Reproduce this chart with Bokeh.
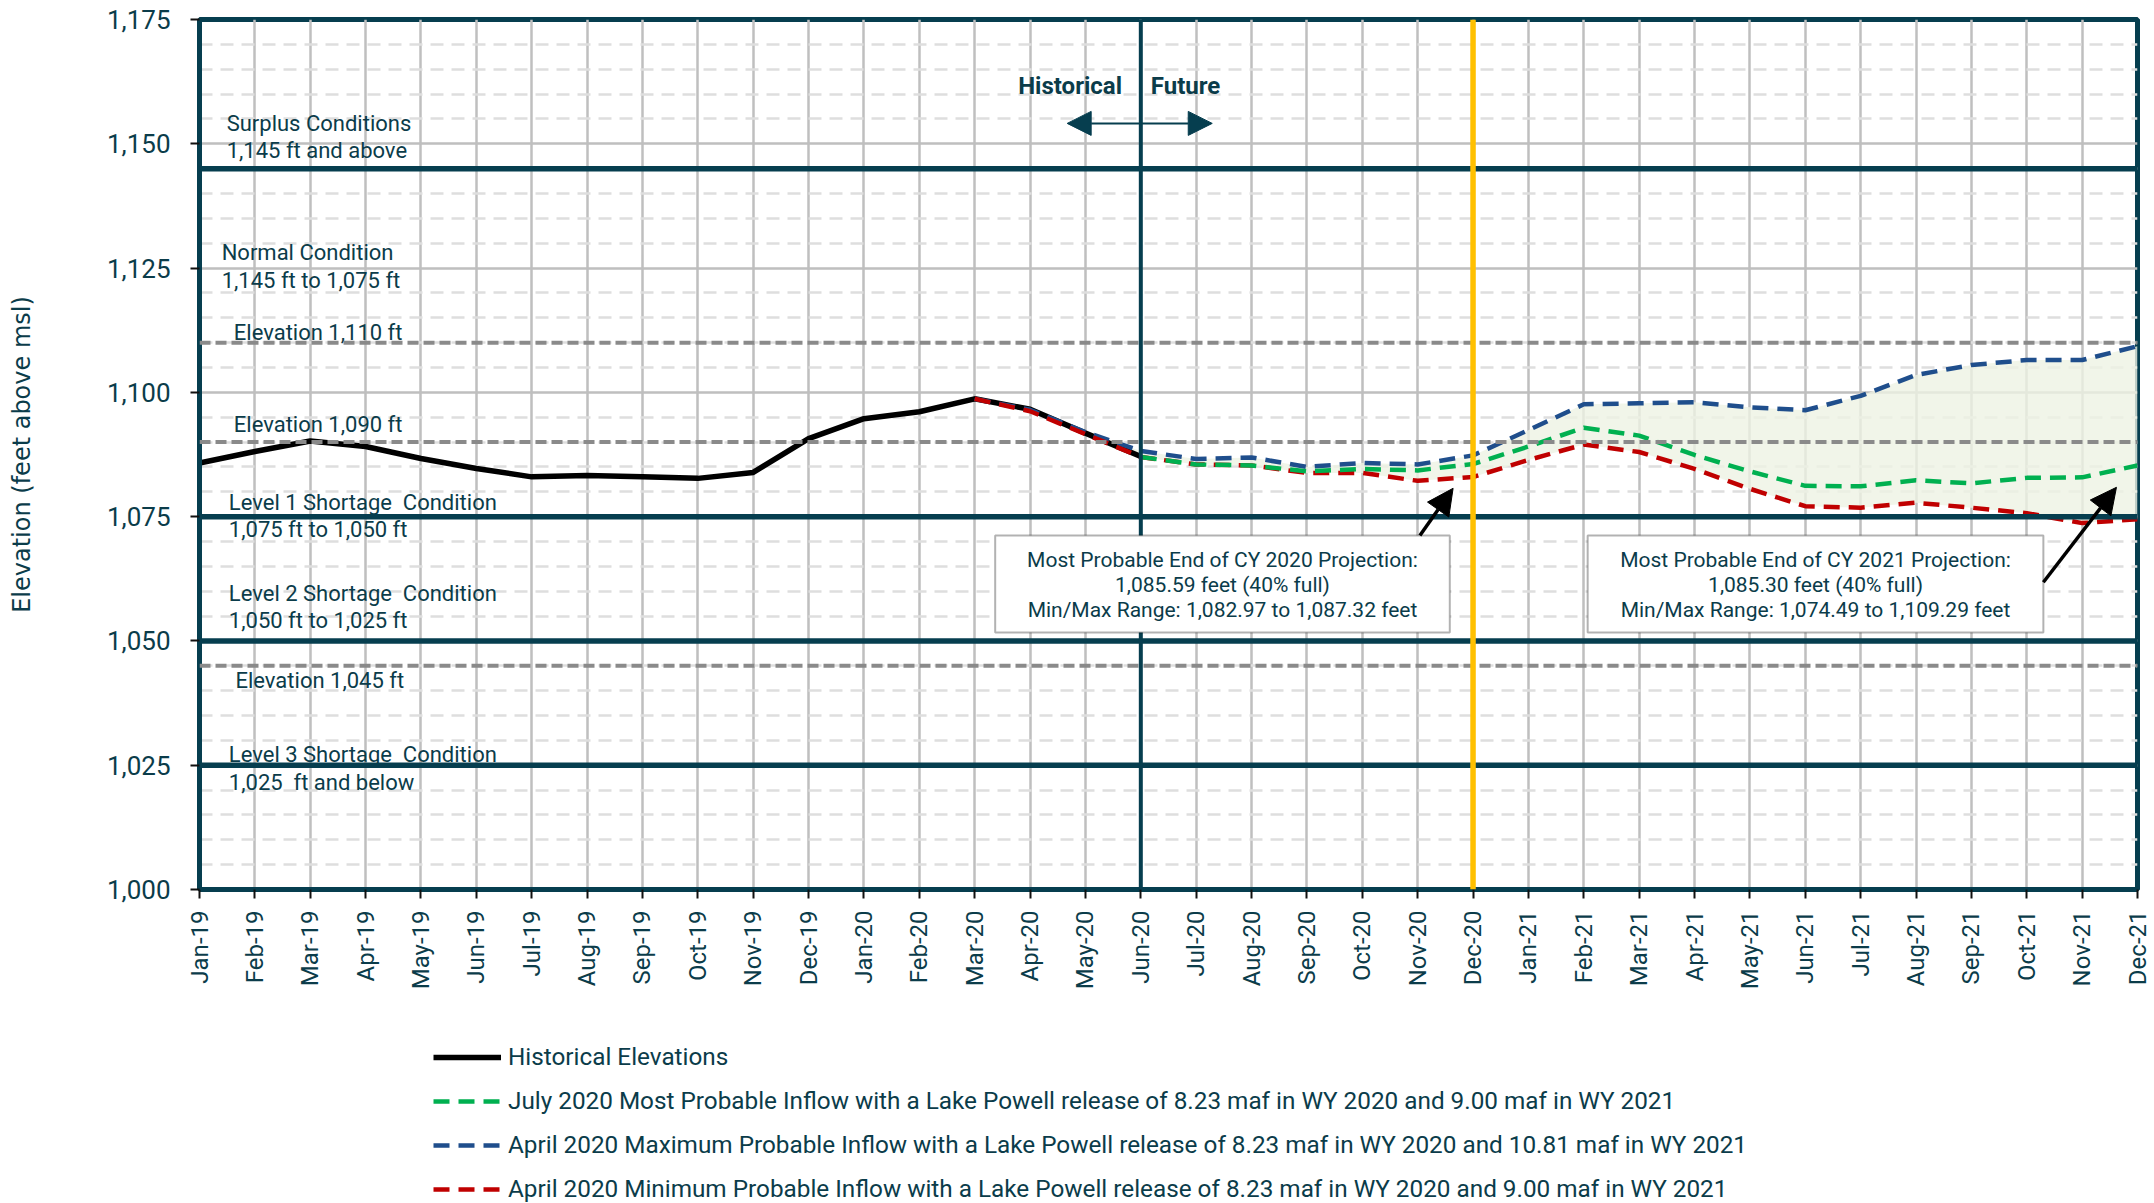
import math
from bokeh.plotting import figure
from bokeh.layouts import column
from bokeh.models import (Range1d, FixedTicker, NumeralTickFormatter, Span, Label,
                          BoxAnnotation, Arrow, NormalHead, Legend, LegendItem, ColumnDataSource)
from bokeh.embed import file_html
from bokeh.resources import INLINE

# ---------------- data ----------------
months = ["Jan-19", "Feb-19", "Mar-19", "Apr-19", "May-19", "Jun-19", "Jul-19", "Aug-19", "Sep-19",
          "Oct-19", "Nov-19", "Dec-19", "Jan-20", "Feb-20", "Mar-20", "Apr-20", "May-20", "Jun-20",
          "Jul-20", "Aug-20", "Sep-20", "Oct-20", "Nov-20", "Dec-20", "Jan-21", "Feb-21", "Mar-21",
          "Apr-21", "May-21", "Jun-21", "Jul-21", "Aug-21", "Sep-21", "Oct-21", "Nov-21", "Dec-21"]

# Historical elevations Jan-19 .. Jun-20
historical = [1085.8, 1088.1, 1090.2, 1089.1, 1086.7, 1084.7, 1083.0, 1083.3, 1083.0, 1082.7,
              1083.9, 1090.7, 1094.7, 1096.1, 1098.7, 1096.6, 1091.8, 1087.1]
hist_start = "Jan-19"

# April 2020 Maximum Probable (Mar-20 .. Dec-21)
max_prob = [1098.7, 1096.5, 1092.0, 1088.2, 1086.6, 1086.9, 1085.0, 1085.8, 1085.5, 1087.32,
            1092.4, 1097.6, 1097.8, 1098.0, 1097.0, 1096.4, 1099.3, 1103.5, 1105.5, 1106.5,
            1106.5, 1109.29]
# April 2020 Minimum Probable (Mar-20 .. Dec-21)
min_prob = [1098.7, 1096.2, 1091.6, 1087.0, 1085.5, 1085.3, 1083.8, 1083.8, 1082.2, 1082.97,
            1086.4, 1089.5, 1088.0, 1084.6, 1080.6, 1077.1, 1076.8, 1077.8, 1076.8, 1075.7,
            1073.7, 1074.49]
april_start = "Mar-20"

# July 2020 Most Probable (Jun-20 .. Dec-21)
most_prob = [1087.0, 1085.5, 1085.3, 1084.1, 1084.6, 1084.3, 1085.59, 1089.1, 1092.9, 1091.3,
             1087.4, 1084.1, 1081.2, 1081.1, 1082.3, 1081.7, 1082.8, 1082.9, 1085.30]
july_start = "Jun-20"

y_ticks = [1000, 1025, 1050, 1075, 1100, 1125, 1150, 1175]
condition_levels = [1145, 1075, 1050, 1025]
elevation_levels = [1110, 1090, 1045]
divider_month = "Jun-20"
cy_end_month = "Dec-20"

legend_labels = [
    "Historical Elevations",
    "July 2020 Most Probable Inflow with a Lake Powell release of 8.23 maf in WY 2020 and 9.00 maf in WY 2021",
    "April 2020 Maximum Probable Inflow with a Lake Powell release of 8.23 maf in WY 2020 and 10.81 maf in WY 2021",
    "April 2020 Minimum Probable Inflow with a Lake Powell release of 8.23 maf in WY 2020 and 9.00 maf in WY 2021",
]

# ---------------- styles ----------------
TEAL = "#063e4f"
TXT = "#0b3c4a"
GREEN = "#00b050"
BLUE = "#1f4e8c"
RED = "#c00000"
FONT = "Roboto"
DASH = "16 9"

def xs(start, n):
    i0 = months.index(start)
    return list(range(i0, i0 + n))

src_hist = ColumnDataSource(dict(x=xs(hist_start, len(historical)), y=historical))
src_apr = ColumnDataSource(dict(x=xs(april_start, len(max_prob)), ymax=max_prob, ymin=min_prob))
src_jul = ColumnDataSource(dict(x=xs(july_start, len(most_prob)), y=most_prob))

series = [  # (legend label, source, y column, style)
    (legend_labels[0], src_hist, "y", dict(line_color="black", line_width=5.5)),
    (legend_labels[1], src_jul, "y", dict(line_color=GREEN, line_width=4.5, line_dash=DASH)),
    (legend_labels[2], src_apr, "ymax", dict(line_color=BLUE, line_width=4.5, line_dash=DASH)),
    (legend_labels[3], src_apr, "ymin", dict(line_color=RED, line_width=4.5, line_dash=DASH)),
]

W = 2154
p = figure(width=W, height=1032, output_backend="svg", toolbar_location=None,
           x_range=Range1d(0, len(months) - 1), y_range=Range1d(y_ticks[0], y_ticks[-1]),
           min_border_left=199, min_border_right=17, min_border_top=19, min_border_bottom=143)
p.background_fill_color = "white"
p.border_fill_color = "white"
p.outline_line_color = TEAL
p.outline_line_width = 5

# axes
p.xaxis.ticker = FixedTicker(ticks=list(range(len(months))))
p.xaxis.major_label_overrides = {i: m for i, m in enumerate(months)}
p.xaxis.major_label_orientation = math.pi / 2
p.xaxis.major_label_text_font = FONT
p.xaxis.major_label_text_font_style = "normal"
p.xaxis.major_label_text_font_size = "24px"
p.xaxis.major_label_text_color = TXT
p.xaxis.major_label_standoff = 12
p.xaxis.minor_tick_line_color = None

minor_vals = [v for v in range(y_ticks[0], y_ticks[-1] + 1, 5) if v not in y_ticks]
p.yaxis.ticker = FixedTicker(ticks=y_ticks, minor_ticks=minor_vals)
p.yaxis.formatter = NumeralTickFormatter(format="0,0")
p.yaxis.major_label_text_font = FONT
p.yaxis.major_label_text_font_size = "26px"
p.yaxis.major_label_text_color = TXT
p.yaxis.major_label_standoff = 20
p.yaxis.minor_tick_line_color = None
p.yaxis.axis_label = "Elevation (feet above msl)"
p.yaxis.axis_label_text_font = "DejaVu Sans"
p.yaxis.axis_label_text_font_style = "normal"
p.yaxis.axis_label_text_font_size = "24px"
p.yaxis.axis_label_text_color = TXT
p.yaxis.axis_label_standoff = 68

for ax in (p.xaxis, p.yaxis):
    ax.axis_line_color = TEAL
    ax.axis_line_width = 5
    ax.major_tick_line_color = "#111111"
    ax.major_tick_line_width = 2
    ax.major_tick_out = 9
    ax.major_tick_in = 0

# grids
p.xgrid.grid_line_color = "#bfbfbf"
p.xgrid.grid_line_width = 2.5
p.ygrid.grid_line_color = "#bfbfbf"
p.ygrid.grid_line_width = 2.5
p.ygrid.minor_grid_line_color = "#dedede"
p.ygrid.minor_grid_line_width = 2.5
p.ygrid.minor_grid_line_dash = "13 8"

# ---------------- glyphs ----------------
p.varea(x="x", y1="ymin", y2="ymax", source=src_apr, fill_color="#eef3e4", fill_alpha=0.8)
for _, src, col, st in [series[0], series[2], series[3], series[1]]:
    p.line("x", col, source=src, **st)

# ---------------- zone texts (under the lines) ----------------
def lab(x, y, text, size="22px", align="left", style="normal", font=FONT, color=TXT):
    p.add_layout(Label(x=x, y=y, text=text, text_font=font, text_font_size=size,
                       text_font_style=style, text_color=color, text_align=align,
                       text_baseline="middle"))

lab(0.49, 1154.1, "Surplus Conditions")
lab(0.49, 1148.6, "1,145 ft and above")
lab(0.40, 1128.1, "Normal Condition")
lab(0.40, 1122.5, "1,145 ft to 1,075 ft")
lab(0.62, 1112.0, "Elevation 1,110 ft")
lab(0.62, 1093.5, "Elevation 1,090 ft")
lab(0.53, 1077.8, "Level 1 Shortage\u00a0 Condition")
lab(0.53, 1072.4, "1,075 ft to 1,050 ft")
lab(0.53, 1059.5, "Level 2 Shortage\u00a0 Condition")
lab(0.53, 1054.1, "1,050 ft to 1,025 ft")
lab(0.65, 1042.0, "Elevation 1,045 ft")
lab(0.53, 1027.2, "Level 3 Shortage\u00a0 Condition")
lab(0.53, 1021.5, "1,025\u00a0 ft and below")

# ---------------- reference lines ----------------
for lv in elevation_levels:
    p.add_layout(Span(location=lv, dimension="width", line_color="#8a8a8a", line_width=4,
                      line_dash="11 5"))
for lv in condition_levels:
    p.add_layout(Span(location=lv, dimension="width", line_color=TEAL, line_width=5.5))
p.add_layout(Span(location=months.index(divider_month), dimension="height", line_color=TEAL,
                  line_width=4))
p.add_layout(Span(location=months.index(cy_end_month), dimension="height", line_color="#ffc000",
                  line_width=5.5))

# ---------------- Historical / Future ----------------
lab(16.66, 1161.7, "Historical", size="24px", align="right", style="bold")
lab(17.18, 1161.7, "Future", size="24px", align="left", style="bold")
p.add_layout(Arrow(start=NormalHead(size=24, fill_color=TEAL, line_color=TEAL),
                   end=NormalHead(size=24, fill_color=TEAL, line_color=TEAL),
                   x_start=15.67, y_start=1154.1, x_end=18.29, y_end=1154.1,
                   line_color=TEAL, line_width=2))

# ---------------- projection boxes ----------------
boxes = [
    (14.37, 22.58, ["Most Probable End of CY 2020 Projection:", "1,085.59 feet (40% full)",
                    "Min/Max Range: 1,082.97 to 1,087.32 feet"], (22.04, 1071.2, 22.64, 1080.7)),
    (25.07, 33.30, ["Most Probable End of CY 2021 Projection:", "1,085.30 feet (40% full)",
                    "Min/Max Range: 1,074.49 to 1,109.29 feet"], (33.30, 1061.8, 34.62, 1080.9)),
]
for left, right, lines, (ax0, ay0, ax1, ay1) in boxes:
    p.add_layout(BoxAnnotation(left=left, right=right, top=1071.2, bottom=1051.7,
                               fill_color="white", fill_alpha=1.0, line_color="black",
                               line_width=2))
    cx = (left + right) / 2
    for yy, t in zip([1066.3, 1061.3, 1056.2], lines):
        lab(cx, yy, t, size="21px", align="center")
    p.add_layout(Arrow(end=NormalHead(size=26, fill_color="black", line_color="black"),
                       x_start=ax0, y_start=ay0, x_end=ax1, y_end=ay1,
                       line_color="black", line_width=3.5))

# ---------------- legend (own strip below the chart) ----------------
# the strip re-uses the same series; its y range excludes them so only the legend shows
lg = figure(width=W, height=171, output_backend="svg", toolbar_location=None,
            x_range=Range1d(0, 1), y_range=Range1d(0, 1), min_border=0,
            x_axis_location=None, y_axis_location=None)
lg.grid.visible = False
lg.outline_line_color = None
lg.background_fill_color = "white"
lg.border_fill_color = "white"
items = []
for label, src, col, st in series:
    r = lg.line("x", col, source=src, **st)
    items.append(LegendItem(label=label, renderers=[r]))
# the strip's frame is aligned with the chart's frame (left edge at 199 px)
legend = Legend(items=items, location=(234, 0), orientation="vertical",
                label_text_font=FONT, label_text_font_size="24.3px", label_text_color=TXT,
                glyph_width=68, glyph_height=28, label_height=28, spacing=15,
                label_standoff=7, padding=0, margin=0,
                background_fill_alpha=0, border_line_color=None)
lg.add_layout(legend)

layout = column(p, lg, spacing=0)
open("out.html", "w").write(file_html(layout, INLINE))
